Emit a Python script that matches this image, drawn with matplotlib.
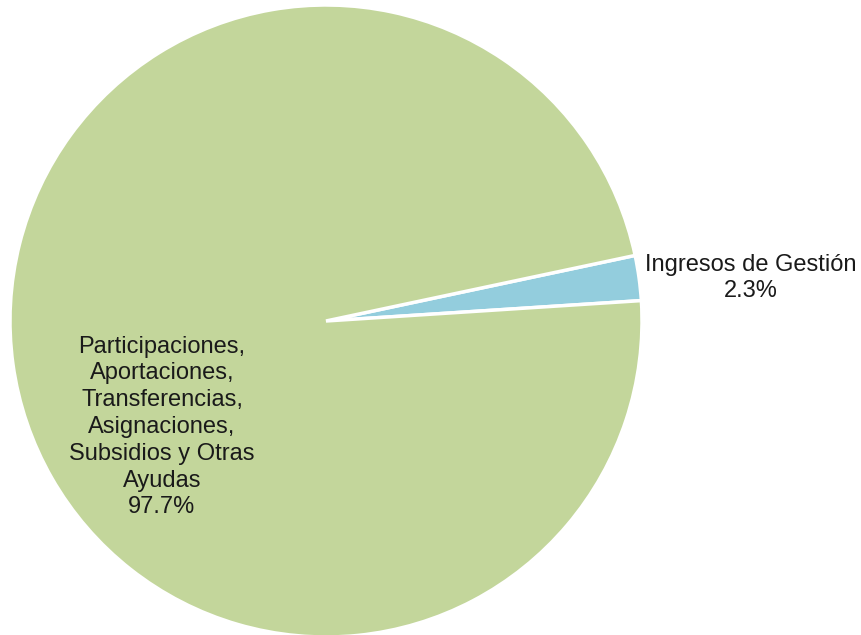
import matplotlib
matplotlib.use('Agg')
from matplotlib import pyplot as plt

labels = ['Ingresos de Gestión',
          'Participaciones,\nAportaciones,\nTransferencias,\nAsignaciones,\nSubsidios y Otras\nAyudas']
values = [2.3, 97.7]
colors = ['#93CDDD', '#C3D69B']

W, H = 862, 635
plt.rcParams['font.family'] = ['Liberation Sans', 'DejaVu Sans']

fig = plt.figure(figsize=(W / 100, H / 100), dpi=100)
fig.patch.set_facecolor('white')

# pie centre ~ (326, 321) px, radius ~316 px
cx, cy, r = 326, 321, 316
ax = fig.add_axes([(cx - r) / W, (H - cy - r) / H, 2 * r / W, 2 * r / H])
ax.pie(values, colors=colors, startangle=3.7, counterclock=True,
       wedgeprops=dict(edgecolor='white', linewidth=2.5))
ax.set_xlim(-1.0, 1.0)
ax.set_ylim(-1.0, 1.0)
ax.set_aspect('equal')
ax.axis('off')

# data labels (pixel positions)
label_pos = [(751, 278), (162, 427)]
total = sum(values)
for lab, v, (x, y) in zip(labels, values, label_pos):
    fig.text(x / W, 1 - y / H, f"{lab}\n{v / total * 100:.1f}%",
             ha='center', va='center', multialignment='center',
             fontsize=17, color='#1a1a1a', linespacing=1.28)

fig.savefig('out.png', dpi=100)
